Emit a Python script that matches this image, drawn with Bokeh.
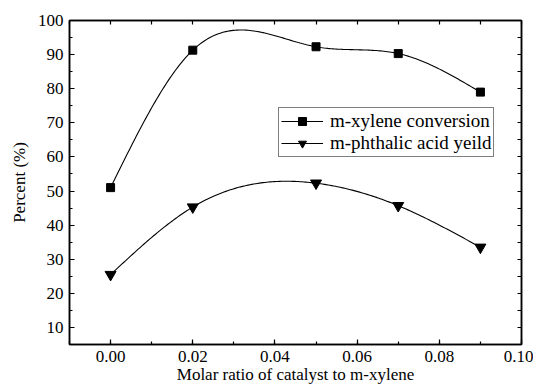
import numpy as np
from bokeh.plotting import figure
from bokeh.models import (LinearAxis, SingleIntervalTicker, FixedTicker, PrintfTickFormatter,
                          Legend, LegendItem)
from bokeh.embed import file_html
from bokeh.resources import INLINE

# ---- data ----
ratio = [0.00, 0.02, 0.05, 0.07, 0.09]
conversion = [51.0, 91.3, 92.3, 90.3, 79.0]
yield_ = [25.5, 45.3, 52.3, 45.7, 33.5]
x_ticks_fmt = "%.2f"


def natural_spline(x, y, n=200):
    x = np.asarray(x, float)
    y = np.asarray(y, float)
    k = len(x)
    h = np.diff(x)
    A = np.zeros((k, k))
    b = np.zeros(k)
    A[0, 0] = 1
    A[-1, -1] = 1
    for i in range(1, k - 1):
        A[i, i - 1] = h[i - 1]
        A[i, i] = 2 * (h[i - 1] + h[i])
        A[i, i + 1] = h[i]
        b[i] = 6 * ((y[i + 1] - y[i]) / h[i] - (y[i] - y[i - 1]) / h[i - 1])
    M = np.linalg.solve(A, b)
    xs = np.linspace(x[0], x[-1], n)
    ys = np.empty_like(xs)
    for j, t in enumerate(xs):
        i = min(np.searchsorted(x, t, side="right") - 1, k - 2)
        i = max(i, 0)
        a = x[i + 1] - t
        c = t - x[i]
        ys[j] = (M[i] * a ** 3 / (6 * h[i]) + M[i + 1] * c ** 3 / (6 * h[i])
                 + (y[i] / h[i] - M[i] * h[i] / 6) * a
                 + (y[i + 1] / h[i] - M[i + 1] * h[i] / 6) * c)
    return xs, ys


FONT = "Liberation Serif"

p = figure(width=533, height=388, x_range=(-0.01, 0.10), y_range=(5, 100),
           output_backend="svg", toolbar_location=None,
           min_border_left=69, min_border_top=20, min_border_right=12,
           min_border_bottom=44)
p.xgrid.visible = False
p.ygrid.visible = False
p.outline_line_color = "black"
p.outline_line_width = 1.5

bottom = p.below[0]
left = p.left[0]
bottom.ticker = SingleIntervalTicker(interval=0.02, num_minor_ticks=2)
left.ticker = SingleIntervalTicker(interval=10, num_minor_ticks=2)
bottom.formatter = PrintfTickFormatter(format=x_ticks_fmt)

top = LinearAxis(ticker=FixedTicker(ticks=[], minor_ticks=list(np.round(np.arange(-0.01, 0.1001, 0.01), 3))))
right = LinearAxis(ticker=FixedTicker(ticks=[], minor_ticks=list(np.arange(5, 101, 5))))
p.add_layout(top, "above")
p.add_layout(right, "right")

for ax in [bottom, left, top, right]:
    ax.major_tick_in = 5
    ax.major_tick_out = 0
    ax.minor_tick_in = 3
    ax.minor_tick_out = 0
    ax.axis_line_width = 1.5
    ax.major_tick_line_width = 1.2
    ax.minor_tick_line_width = 1.2
    ax.axis_line_color = "black"
    ax.major_label_text_font = FONT
    ax.major_label_text_font_size = "17px"
    ax.major_label_text_color = "black"
    ax.axis_label_text_font = FONT
    ax.axis_label_text_font_style = "normal"
    ax.axis_label_text_font_size = "17px"
    ax.axis_label_text_color = "black"

for ax in [top, right]:
    ax.minor_tick_in = 4
    ax.major_label_standoff = 0

bottom.axis_label = "Molar ratio of catalyst to m-xylene"
left.axis_label = "Percent (%)"
bottom.major_label_standoff = 6
left.major_label_standoff = 6
bottom.axis_label_standoff = 0
left.axis_label_standoff = 6

xs1, ys1 = natural_spline(ratio, conversion)
xs2, ys2 = natural_spline(ratio, yield_)

l1 = p.line(xs1, ys1, line_color="black", line_width=1.1)
l2 = p.line(xs2, ys2, line_color="black", line_width=1.1)
m1 = p.scatter(ratio, conversion, marker="square", size=8, color="black")
m2 = p.scatter(ratio, yield_, marker="inverted_triangle", size=11, color="black")

legend = Legend(items=[
    LegendItem(label="m-xylene conversion", renderers=[l1, m1]),
    LegendItem(label="m-phthalic acid yeild", renderers=[l2, m2]),
], location=(209, 187))
legend.label_text_font = FONT
legend.label_text_font_size = "19px"
legend.label_text_color = "black"
legend.border_line_color = "black"
legend.border_line_width = 1
legend.padding = 2
legend.spacing = 0
legend.margin = 0
legend.glyph_width = 42
legend.glyph_height = 20
legend.label_height = 20
legend.label_standoff = 7
legend.background_fill_alpha = 1
p.add_layout(legend, "center")

open("out.html", "w").write(file_html(p, INLINE))
